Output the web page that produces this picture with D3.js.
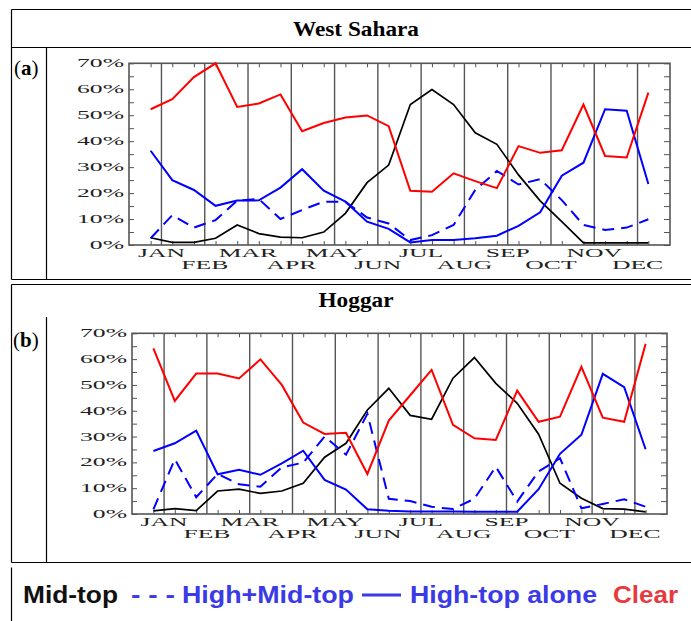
<!DOCTYPE html>
<html>
<head>
<meta charset="utf-8">
<script src="https://cdn.jsdelivr.net/npm/d3@7"></script>
<style>
  body { margin: 0; background: #fff; }
  svg { display: block; }
</style>
</head>
<body>
<svg id="chart" width="691" height="621"></svg>
<script>

// half-month steps, two per month
var months = ["JAN", "FEB", "MAR", "APR", "MAY", "JUN", "JUL", "AUG", "SEP", "OCT", "NOV", "DEC"];
var pctTicks = [0, 10, 20, 30, 40, 50, 60, 70];

// West Sahara (a)
var wsMidTop = [2.8, 1.0, 1.0, 2.6, 7.7, 4.4, 3.0, 2.8, 5.0, 12.2, 24.0, 30.8, 54.1, 59.9, 54.1, 43.2, 38.8, 27.0, 17.0, 9.0, 0.8, 0.8, 0.8, 0.8];
var wsHighMid = [2.6, 11.5, 6.7, 9.6, 17.1, 17.7, 10.0, 13.5, 16.7, 16.7, 10.6, 8.3, 1.9, 3.8, 7.7, 21.2, 28.5, 23.3, 25.4, 17.3, 7.7, 5.8, 6.7, 9.9];
var wsHighAlone = [36.3, 25.0, 21.2, 15.1, 17.1, 17.2, 22.1, 29.2, 20.9, 16.7, 9.0, 6.2, 1.0, 1.9, 1.9, 2.6, 3.6, 7.4, 12.6, 26.7, 31.7, 52.3, 51.7, 23.5];
var wsClear = [52.3, 56.2, 64.7, 70.0, 53.2, 54.5, 58.0, 43.8, 47.0, 49.1, 49.9, 45.8, 20.9, 20.5, 27.6, 24.6, 21.9, 38.1, 35.5, 36.5, 54.1, 34.3, 33.7, 58.7];

// Hoggar (b)
var hgMidTop = [1.2, 2.1, 1.3, 8.9, 9.6, 8.0, 8.9, 11.9, 22.0, 27.4, 40.3, 48.7, 38.2, 36.7, 52.6, 60.6, 50.6, 42.9, 30.9, 11.9, 6.1, 2.1, 1.9, 0.8];
var hgHighMid = [1.8, 21.2, 6.5, 15.5, 11.5, 10.6, 18.1, 19.9, 30.0, 23.0, 38.8, 5.9, 5.0, 2.8, 1.9, 5.9, 18.3, 4.8, 16.5, 21.6, 2.2, 3.9, 5.7, 2.8];
var hgHighAlone = [24.4, 27.4, 32.3, 15.4, 17.1, 15.2, 19.6, 24.5, 13.2, 9.5, 1.8, 1.3, 1.0, 1.0, 1.0, 0.9, 0.9, 0.9, 9.6, 23.3, 30.7, 54.3, 49.1, 25.1];
var hgClear = [64.2, 43.8, 54.4, 54.4, 52.5, 59.9, 50.0, 35.4, 31.0, 31.5, 15.5, 36.2, 46.0, 55.8, 34.5, 29.3, 28.7, 47.8, 35.7, 37.7, 57.0, 37.3, 35.7, 65.9];

var legendItems = ["Mid-top", "- - -", "High+Mid-top", "High-top alone", "Clear"];

var svg = d3.select("#chart");
var SERIF = "'Liberation Serif', 'DejaVu Serif', serif";
var SANS = "'Liberation Sans', Arial, sans-serif";
var STRETCH = 2.05;

// ========================================================
// table frame
function hline(y, x1, x2) {
  svg.append("line").attr("x1", x1).attr("x2", x2).attr("y1", y).attr("y2", y)
    .attr("stroke", "#000").attr("stroke-width", 1.2);
}
function vline(x, y1, y2) {
  svg.append("line").attr("x1", x).attr("x2", x).attr("y1", y1).attr("y2", y2)
    .attr("stroke", "#000").attr("stroke-width", 1.2);
}

hline(9.5, 11.5, 691);
hline(47.5, 11.5, 691);
hline(279.5, 11.5, 691);
vline(11.5, 9.5, 279.5);
vline(46.5, 47.5, 279.5);

hline(284.5, 11.5, 691);
hline(562.5, 11.5, 691);
vline(11.5, 284.5, 562.5);
vline(46.5, 317, 562.5);

vline(11.5, 567.5, 621);

// titles
function title(txt, y, w) {
  svg.append("text").attr("x", 356).attr("y", y)
    .attr("text-anchor", "middle")
    .attr("font-family", SERIF).attr("font-weight", "bold").attr("font-size", 22)
    .attr("textLength", w).attr("lengthAdjust", "spacingAndGlyphs")
    .text(txt);
}
title("West Sahara", 36, 126);
title("Hoggar", 306.5, 75);

function panelTag(letter, x, y) {
  var t = svg.append("text").attr("x", x).attr("y", y)
    .attr("font-family", SERIF).attr("font-size", 21);
  t.append("tspan").text("(");
  t.append("tspan").attr("font-weight", "bold").text(letter);
  t.append("tspan").text(")");
}
panelTag("a", 14, 75);
panelTag("b", 13, 347);

// ========================================================
// one panel
function drawPanel(opt) {
  var x = d3.scaleLinear().domain([-1, 24]).range([opt.left, opt.right]);
  var y = d3.scaleLinear().domain([0, 70]).range([opt.bottom, opt.top]);
  var g = svg.append("g");

  // month separators
  g.selectAll(".sep").data(months).enter().append("line")
    .attr("x1", function (d, i) { return x(0.5 + 2 * i); })
    .attr("x2", function (d, i) { return x(0.5 + 2 * i); })
    .attr("y1", opt.top).attr("y2", opt.bottom)
    .attr("stroke", "#555").attr("stroke-width", 1.4);

  // ticks (inward)
  var tickColor = "#555";
  function noDomain(sel) { sel.select(".domain").remove(); sel.attr("color", tickColor); }
  g.append("g").attr("transform", "translate(" + opt.left + ",0)")
    .call(d3.axisLeft(y).tickValues(d3.range(0, 71, 5)).tickSize(-5).tickFormat(""))
    .call(noDomain);
  g.append("g").attr("transform", "translate(" + opt.right + ",0)")
    .call(d3.axisRight(y).tickValues(d3.range(0, 71, 5)).tickSize(-6).tickFormat(""))
    .call(noDomain);
  g.append("g").attr("transform", "translate(0," + opt.top + ")")
    .call(d3.axisTop(x).tickValues(d3.range(0, 24)).tickSize(-4).tickFormat(""))
    .call(noDomain);
  g.append("g").attr("transform", "translate(0," + opt.bottom + ")")
    .call(d3.axisBottom(x).tickValues(d3.range(0, 24)).tickSize(-4).tickFormat(""))
    .call(noDomain);

  g.append("rect")
    .attr("x", opt.left).attr("y", opt.top)
    .attr("width", opt.right - opt.left).attr("height", opt.bottom - opt.top)
    .attr("fill", "none").attr("stroke", "#555").attr("stroke-width", 1.6);

  // y labels
  g.selectAll(".ylab").data(pctTicks).enter().append("text")
    .attr("transform", function (d) {
      return "translate(" + (opt.left - 5) + "," + (y(d) + 4) + ") scale(" + STRETCH + ",1)";
    })
    .attr("text-anchor", "end")
    .attr("font-family", SERIF).attr("font-size", 12.5).attr("fill", "#222")
    .text(function (d) { return d + "%"; });

  // month labels, alternating rows
  g.selectAll(".mlab").data(months).enter().append("text")
    .attr("transform", function (d, i) {
      var yy = opt.bottom + (i % 2 === 0 ? 11.7 : 23.5);
      return "translate(" + x(0.5 + 2 * i) + "," + yy + ") scale(" + STRETCH + ",1)";
    })
    .attr("text-anchor", "middle")
    .attr("font-family", SERIF).attr("font-size", 12.5).attr("fill", "#222")
    .text(function (d) { return d; });

  // series
  var line = d3.line()
    .x(function (d, i) { return x(i); })
    .y(function (d) { return y(d); });

  var series = [
    { values: opt.midTop, color: "#000", width: 1.7, dash: null },
    { values: opt.highMid, color: "#0000ff", width: 2, dash: "12,7" },
    { values: opt.highAlone, color: "#0000ff", width: 2, dash: null },
    { values: opt.clear, color: "#ff0000", width: 2, dash: null }
  ];
  series.forEach(function (s) {
    g.append("path")
      .attr("d", line(s.values))
      .attr("fill", "none")
      .attr("stroke", s.color)
      .attr("stroke-width", s.width)
      .attr("stroke-linejoin", "miter")
      .attr("stroke-dasharray", s.dash);
  });
}

drawPanel({
  left: 129, right: 670, top: 63.3, bottom: 245,
  midTop: wsMidTop, highMid: wsHighMid, highAlone: wsHighAlone, clear: wsClear
});
drawPanel({
  left: 132, right: 667, top: 333.3, bottom: 514,
  midTop: hgMidTop, highMid: hgHighMid, highAlone: hgHighAlone, clear: hgClear
});

// ========================================================
// legend
var legendPos = [
  { x: 23, w: 95, color: "#111" },
  { x: 131, w: 44, color: "#3a3ae6" },
  { x: 182, w: 172, color: "#3a3ae6" },
  { x: 410, w: 187, color: "#3a3ae6" },
  { x: 613, w: 65, color: "#e63a3e" }
];
legendItems.forEach(function (txt, i) {
  var p = legendPos[i];
  svg.append("text")
    .attr("x", p.x).attr("y", 603)
    .attr("font-family", SANS).attr("font-weight", "bold").attr("font-size", 23)
    .attr("fill", p.color)
    .attr("textLength", p.w).attr("lengthAdjust", "spacingAndGlyphs")
    .text(txt);
});
svg.append("line")
  .attr("x1", 362).attr("x2", 401).attr("y1", 595).attr("y2", 595)
  .attr("stroke", "#3a3ae6").attr("stroke-width", 3.2);

</script>
</body>
</html>
